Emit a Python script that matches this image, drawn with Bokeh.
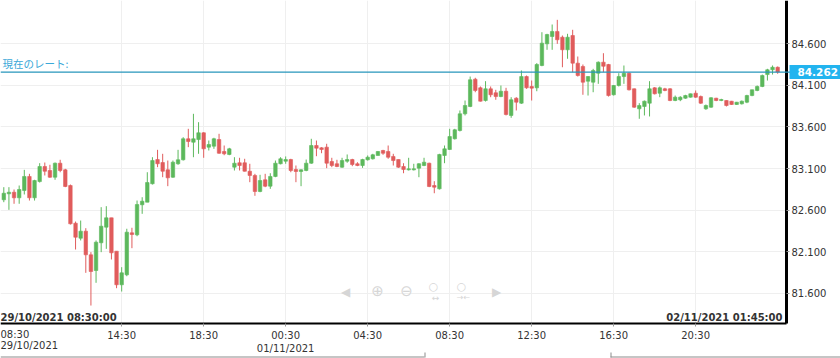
import numpy as np
from bokeh.plotting import figure
from bokeh.models import (ColumnDataSource, FixedTicker, Range1d, Span, Label,
                          PrintfTickFormatter, BoxAnnotation)
from bokeh.embed import file_html
from bokeh.resources import INLINE

# ---------------- data (15-minute candles) ----------------
opens = [
    82.723, 82.795, 82.814, 82.747, 82.835, 83.004, 82.747, 82.943, 83.124, 83.076,
    82.995, 83.164, 83.084, 82.895, 82.441, 82.260, 82.345, 82.060, 81.871, 82.205,
    82.393, 82.506, 82.104, 81.699, 81.819, 82.325, 82.301, 82.663, 82.694, 82.916,
    83.208, 83.172, 83.084, 82.995, 83.157, 83.205, 83.458, 83.417, 83.449, 83.530,
    83.357, 83.369, 83.449, 83.305, 83.269, 83.116, 83.169, 83.169, 83.067, 83.016,
    82.823, 82.964, 82.887, 83.004, 83.157, 83.188, 83.208, 83.088, 83.064, 83.076,
    83.164, 83.377, 83.349, 83.357, 83.184, 83.157, 83.116, 83.188, 83.208, 83.157,
    83.136, 83.205, 83.217, 83.257, 83.317, 83.305, 83.245, 83.208, 83.124, 83.084,
    83.084, 83.104, 83.136, 83.164, 82.895, 82.855, 83.257, 83.329, 83.458, 83.558,
    83.759, 83.847, 84.176, 84.072, 83.919, 84.060, 84.012, 83.967, 84.031, 83.739,
    83.947, 83.887, 84.208, 84.088, 84.072, 84.341, 84.602, 84.690, 84.751, 84.682,
    84.530, 84.702, 84.369, 84.329, 84.152, 84.140, 84.248, 84.381, 84.353, 83.988,
    84.100, 84.208, 84.248, 84.060, 83.819, 83.847, 83.887, 84.072, 84.007, 84.060,
    84.060, 83.919, 83.928, 83.947, 83.959, 84.007, 83.967, 83.819, 83.839, 83.947,
    83.919, 83.919, 83.911, 83.871, 83.879, 83.899, 83.979, 84.040, 84.088, 84.232,
    84.289, 84.320,
]
highs = [
    82.875, 82.875, 82.847, 82.895, 83.084, 83.036, 82.964, 83.164, 83.172, 83.145,
    83.172, 83.205, 83.096, 82.907, 82.461, 82.473, 82.381, 82.092, 82.233, 82.634,
    82.646, 82.506, 82.104, 81.911, 82.374, 82.386, 82.714, 82.754, 83.055, 83.236,
    83.325, 83.277, 83.196, 83.196, 83.325, 83.477, 83.578, 83.759, 83.658, 83.537,
    83.437, 83.470, 83.518, 83.377, 83.349, 83.236, 83.229, 83.217, 83.157, 83.036,
    83.024, 83.036, 83.043, 83.196, 83.236, 83.245, 83.217, 83.136, 83.090, 83.208,
    83.458, 83.437, 83.357, 83.398, 83.229, 83.205, 83.229, 83.269, 83.217, 83.176,
    83.217, 83.257, 83.277, 83.309, 83.325, 83.377, 83.277, 83.208, 83.164, 83.229,
    83.157, 83.164, 83.229, 83.170, 82.947, 83.277, 83.377, 83.578, 83.578, 83.799,
    83.919, 84.208, 84.193, 84.088, 84.152, 84.088, 84.048, 84.100, 84.072, 83.959,
    83.959, 84.281, 84.220, 84.160, 84.369, 84.742, 84.723, 84.835, 84.891, 84.702,
    84.723, 84.771, 84.449, 84.353, 84.212, 84.301, 84.390, 84.489, 84.360, 84.105,
    84.248, 84.341, 84.260, 84.064, 83.887, 83.919, 84.152, 84.080, 84.088, 84.072,
    84.068, 83.979, 83.971, 83.988, 84.002, 84.040, 83.979, 83.871, 83.959, 83.952,
    83.940, 83.922, 83.914, 83.902, 83.919, 83.988, 84.050, 84.100, 84.232, 84.301,
    84.341, 84.329,
]
lows = [
    82.694, 82.602, 82.675, 82.675, 82.787, 82.714, 82.714, 82.931, 83.016, 82.988,
    82.964, 83.055, 82.875, 82.425, 82.124, 82.233, 81.843, 81.449, 81.723, 82.092,
    82.132, 82.004, 81.658, 81.618, 81.802, 82.140, 82.284, 82.554, 82.694, 82.907,
    83.116, 82.995, 82.887, 82.988, 83.145, 83.196, 83.357, 83.236, 83.277, 83.229,
    83.317, 83.337, 83.277, 83.260, 83.260, 83.076, 83.076, 83.064, 82.935, 82.771,
    82.814, 82.875, 82.855, 82.995, 83.150, 83.157, 83.055, 82.935, 82.887, 83.067,
    83.157, 83.248, 83.284, 83.104, 83.116, 83.116, 83.108, 83.169, 83.128, 83.128,
    83.108, 83.196, 83.208, 83.257, 83.265, 83.217, 83.136, 83.108, 83.043, 83.076,
    83.076, 82.995, 83.128, 82.875, 82.802, 82.847, 83.164, 83.325, 83.449, 83.546,
    83.739, 83.839, 84.019, 83.907, 83.907, 83.959, 83.928, 83.959, 83.739, 83.711,
    83.799, 83.879, 84.060, 83.919, 84.031, 84.332, 84.530, 84.530, 84.602, 84.320,
    84.422, 84.260, 84.208, 83.988, 83.979, 84.019, 84.120, 84.260, 83.967, 83.979,
    84.088, 84.120, 84.040, 83.831, 83.699, 83.739, 83.727, 83.992, 83.959, 84.031,
    83.911, 83.911, 83.911, 83.940, 83.955, 83.952, 83.879, 83.807, 83.831, 83.911,
    83.911, 83.847, 83.867, 83.867, 83.871, 83.887, 83.971, 84.031, 84.080, 84.160,
    84.232, 84.241,
]
closes = [
    82.802, 82.814, 82.747, 82.847, 83.004, 82.747, 82.955, 83.124, 83.067, 82.995,
    83.164, 83.076, 82.883, 82.434, 82.272, 82.345, 82.060, 81.859, 82.212, 82.405,
    82.506, 82.084, 81.699, 81.843, 82.333, 82.305, 82.666, 82.706, 82.931, 83.196,
    83.157, 83.067, 82.988, 83.176, 83.205, 83.458, 83.425, 83.458, 83.530, 83.337,
    83.389, 83.458, 83.284, 83.277, 83.337, 83.164, 83.136, 83.067, 83.016, 82.823,
    82.955, 82.887, 83.004, 83.164, 83.217, 83.208, 83.076, 83.064, 83.084, 83.164,
    83.377, 83.345, 83.329, 83.164, 83.136, 83.124, 83.196, 83.208, 83.148, 83.136,
    83.208, 83.236, 83.265, 83.305, 83.284, 83.236, 83.196, 83.116, 83.088, 83.096,
    83.096, 83.157, 83.176, 82.883, 82.875, 83.269, 83.337, 83.485, 83.566, 83.759,
    83.859, 84.169, 84.040, 83.911, 84.060, 83.988, 83.967, 84.031, 83.751, 83.928,
    83.899, 84.208, 84.072, 84.068, 84.353, 84.610, 84.714, 84.751, 84.651, 84.530,
    84.682, 84.369, 84.220, 84.140, 84.208, 84.281, 84.381, 84.332, 83.979, 84.100,
    84.208, 84.248, 84.048, 83.839, 83.859, 83.911, 84.060, 84.000, 84.072, 84.040,
    83.919, 83.959, 83.959, 83.979, 84.000, 83.959, 83.887, 83.859, 83.952, 83.919,
    83.931, 83.859, 83.871, 83.899, 83.911, 83.979, 84.048, 84.088, 84.220, 84.289,
    84.320, 84.262,
]

current_rate = 84.262
rate_caption = "現在のレート:"
start_stamp = "29/10/2021 08:30:00"
end_stamp = "02/11/2021 01:45:00"
first_tick_time = "08:30"
first_tick_date = "29/10/2021"
tick_index = [23, 39, 55, 71, 87, 103, 119, 135]
tick_labels = ["14:30", "18:30", "00:30\n01/11/2021", "04:30", "08:30", "12:30", "16:30", "20:30"]
price_ticks = [81.6, 82.1, 82.6, 83.1, 83.6, 84.1, 84.6]

# ---------------- styling / layout ----------------
GREEN = "#5cb85c"
RED = "#e05c5c"
RATE_LINE = "#2796bb"
RATE_TEXT = "#3aa8d8"
RATE_BOX = "#22b4ef"
GRID = "#efefef"
TEXT = "#333333"
FONT = "DejaVu Sans"

W, H = 840, 358
X0, X1 = -0.644, 163.26      # visible slots across the whole figure
Y0, Y1 = 80.811, 85.124      # visible prices across the whole figure
AXIS_X = 152.72              # where the price axis sits
AXIS_Y = 81.238              # where the time axis sits

o = np.array(opens)
h = np.array(highs)
l = np.array(lows)
c = np.array(closes)
idx = np.arange(len(o))
colors = np.where(c >= o, GREEN, RED)

src = ColumnDataSource(dict(
    x=idx, high=h, low=l,
    top=np.maximum(o, c), bottom=np.minimum(o, c), color=colors,
))

p = figure(
    width=W, height=H,
    output_backend="svg", toolbar_location=None, tools="",
    x_range=Range1d(X0, X1), y_range=Range1d(Y0, Y1),
    y_axis_location="right",
    min_border=0, min_border_left=0, min_border_right=0, min_border_top=0, min_border_bottom=0,
)
p.outline_line_color = None
p.background_fill_color = "white"
p.border_fill_color = "white"

# grids
xt = FixedTicker(ticks=tick_index)
yt = FixedTicker(ticks=price_ticks)
p.xgrid.ticker = xt
p.ygrid.ticker = yt
p.xgrid.grid_line_color = GRID
p.ygrid.grid_line_color = GRID

# white masks over the axis strips (hide grid lines there)
p.add_layout(BoxAnnotation(left=AXIS_X, fill_color="white", fill_alpha=1.0,
                           line_color=None, level="underlay"))
p.add_layout(BoxAnnotation(top=AXIS_Y, fill_color="white", fill_alpha=1.0,
                           line_color=None, level="underlay"))

# candles
p.segment(x0="x", y0="low", x1="x", y1="high", line_color="color", line_width=1, source=src)
p.vbar(x="x", width=0.68, top="top", bottom="bottom", fill_color="color",
       line_color="color", line_width=0.6, source=src)

# x axis
xa = p.xaxis[0]
xa.fixed_location = AXIS_Y
xa.bounds = (X0, AXIS_X)
xa.ticker = xt
xa.major_label_overrides = dict(zip(tick_index, tick_labels))
xa.axis_line_color = "black"
xa.axis_line_width = 2
xa.major_tick_line_color = "#999999"
xa.major_tick_in = 0
xa.major_tick_out = 3
xa.minor_tick_line_color = None
xa.major_label_standoff = 4
xa.major_label_text_font = FONT
xa.major_label_text_font_size = "10px"
xa.major_label_text_color = TEXT

# y axis (right)
ya = p.yaxis[0]
ya.fixed_location = AXIS_X
ya.bounds = (AXIS_Y, Y1)
ya.ticker = yt
ya.formatter = PrintfTickFormatter(format="%.3f")
ya.axis_line_color = "black"
ya.axis_line_width = 3
ya.major_tick_line_color = "#999999"
ya.major_tick_in = 0
ya.major_tick_out = 3
ya.minor_tick_line_color = None
ya.major_label_standoff = 2
ya.major_label_text_font = FONT
ya.major_label_text_font_size = "10px"
ya.major_label_text_color = TEXT

# current rate line, caption and value box
p.add_layout(Span(location=current_rate, dimension="width", line_color=RATE_LINE, line_width=1.3))
p.add_layout(Label(x=2, y=current_rate, x_units="screen", y_units="data", text=rate_caption,
                   text_font="Noto Sans CJK JP", text_font_size="10.5px", text_color=RATE_TEXT,
                   text_baseline="bottom", y_offset=1))
p.add_layout(Label(x=789, y=current_rate, x_units="screen", y_units="data",
                   text=f"{current_rate:.3f}", text_font=FONT, text_font_size="10.5px",
                   text_font_style="bold", text_color="white", text_baseline="middle",
                   text_align="left", background_fill_color=RATE_BOX, padding=(8, 2, 3, 3)))

# time stamps inside the chart area
p.add_layout(Label(x=0, y=36, x_units="screen", y_units="screen", text=start_stamp,
                   text_font=FONT, text_font_size="10px", text_font_style="bold",
                   text_color=TEXT, text_baseline="bottom", text_align="left"))
p.add_layout(Label(x=782, y=36, x_units="screen", y_units="screen", text=end_stamp,
                   text_font=FONT, text_font_size="10px", text_font_style="bold",
                   text_color=TEXT, text_baseline="bottom", text_align="right"))

# first (left-edge) tick label
for txt, yy in ((first_tick_time, 24), (first_tick_date, 13)):
    p.add_layout(Label(x=0, y=yy, x_units="screen", y_units="screen", text=txt,
                       text_font=FONT, text_font_size="10px", text_color=TEXT,
                       text_baseline="middle", text_align="left"))

# faint navigation icons
ICON = "#d6d6d6"
for txt, xx, yy, sz in (("◀", 345, 67, "12px"), ("⊕", 377, 68, "15px"), ("⊖", 406, 68, "15px"),
                        ("○", 433, 72, "11px"), ("↔", 435, 61, "9px"),
                        ("○", 461, 72, "11px"), ("→←", 463, 61, "8px"), ("▶", 496, 67, "12px")):
    p.add_layout(Label(x=xx, y=yy, x_units="screen", y_units="screen", text=txt,
                       text_font=FONT, text_font_size=sz, text_color=ICON,
                       text_baseline="middle", text_align="center"))

# top edge of the (cut-off) navigator strip at the very bottom
NAV = "#8c8c8c"
for lft, rgt in ((0, 424), (610, 840)):
    p.add_layout(BoxAnnotation(left=lft, right=rgt, bottom=1, top=2,
                               left_units="screen", right_units="screen",
                               bottom_units="screen", top_units="screen",
                               fill_color=NAV, fill_alpha=1.0, line_color=None))
for xx in (424, 610):
    p.add_layout(BoxAnnotation(left=xx, right=xx + 1, bottom=1, top=6,
                               left_units="screen", right_units="screen",
                               bottom_units="screen", top_units="screen",
                               fill_color=NAV, fill_alpha=1.0, line_color=None))

open("out.html", "w").write(file_html(p, INLINE))
